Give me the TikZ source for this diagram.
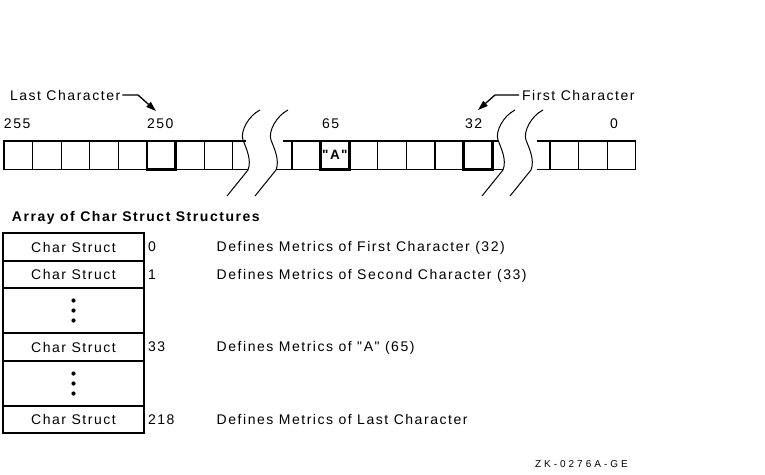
\documentclass[tikz,border=0pt]{standalone}
\usepackage{fontspec}
\setmainfont{Liberation Sans}[LetterSpace=11, Ligatures=TeXOff]
\usetikzlibrary{positioning, calc, arrows.meta}

\begin{document}
\begin{tikzpicture}[x=1pt, y=-1pt,
    every node/.style={inner sep=0pt, outer sep=0pt, font=\fontsize{14}{16}\selectfont},
    cell/.style={draw, line width=1.2pt, minimum width=28.6pt, minimum height=28.5pt},
    hot/.style={draw, line width=2.6pt, minimum width=28.6pt, minimum height=28.5pt},
    slot/.style={draw, line width=1.3pt, minimum width=141pt},
    tag/.style={text height=9.5pt, text depth=0.5pt},
    brk/.pic={\draw[line width=1pt] (17,-30) .. controls (5,-24) and (-3,-8) .. (0,0) .. controls (3,8) and (9,20) .. (5,30) -- (-16,56);},
    ptr/.style={-{Triangle[length=10pt,width=6.5pt]}, line width=1.3pt}]

\useasboundingbox (0,0) rectangle (765,474);

% First run of cells (255 ... 248)
\foreach \i in {0,...,7}
  \node[cell] (a\i) at (18.3+28.6*\i,155.25) {};
\draw[line width=1.2pt] (a7.north east) -- (246,141) (a7.south east) -- (248,169.5);

% Second run of cells
\foreach \i in {0,...,6}
  \node[cell] (b\i) at (306.3+28.6*\i,155.25) {};
\draw[line width=1.2pt] (283,141) -- (b0.north west) (276,169.5) -- (b0.south west)
  (b6.north east) -- (498,141) (b6.south east) -- (503,169.5);

% Third run of cells (2, 1, 0)
\foreach \i in {0,...,2}
  \node[cell] (c\i) at (564.3+28.6*\i,155.25) {};
\draw[line width=1.2pt] (537,141) -- (c0.north west) (537,169.5) -- (c0.south west);

% marked cells
\node[hot] (k250) at (a5) {};
\node[hot, font=\fontsize{13.5}{15}\selectfont\bfseries] (k65) at (b1) {"A"};
\node[hot] (k32) at (b6) {};

% breaks in the row
\pic at (243,140) {brk};
\pic at (271,140) {brk};
\pic at (498,140) {brk};
\pic at (526,140) {brk};

% cell numbers
\node[anchor=base west] (n255) at ($(a0.north west)+(0,-13)$) {255};
\node[anchor=base west] (n250) at ($(a5.north west)+(0,-13)$) {250};
\node[anchor=base west] (n65) at ($(b1.north west)+(1.5,-13)$) {65};
\node[anchor=base west] (n32) at ($(b6.north west)+(1.5,-13)$) {32};
\node[anchor=base west] (n0) at ($(c2.north west)+(3,-13)$) {0};

% pointers
\node[anchor=base west] (lastlbl) at (10,100) {Last Character};
\coordinate (lastbend) at (138,95);
\coordinate (lasttip) at (156,111);
\draw[ptr] ([xshift=2pt]lastlbl.east) -- (lastbend) -- (lasttip);

\node[anchor=base west] (firstlbl) at (522,100) {First Character};
\coordinate (firstbend) at (495,95);
\coordinate (firsttip) at (478,110);
\draw[ptr] ([xshift=-3pt]firstlbl.west) -- (firstbend) -- (firsttip);

% array of structures
\node[anchor=base west, font=\fontsize{14}{16}\selectfont\bfseries] (title) at (12,221) {Array of Char Struct Structures};
\node[slot, minimum height=28pt] (s0) at (73.5,247) {Char Struct};
\node[slot, minimum height=27pt, below=0pt of s0] (s1) {Char Struct};
\node[slot, minimum height=45pt, below=0pt of s1] (gap1) {};
\node[slot, minimum height=28pt, below=0pt of gap1] (s33) {Char Struct};
\node[slot, minimum height=45pt, below=0pt of s33] (gap2) {};
\node[slot, minimum height=27pt, below=0pt of gap2] (s218) {Char Struct};

\foreach \g in {gap1,gap2}
  \foreach \d in {-10,0,10}
    \fill ($(\g.center)+(0,\d)$) circle (2.1);

% indices and meanings
\node[tag, right=4pt of s0] (i0) {0};
\node[tag, right=72.7pt of s0] (d0) {Defines Metrics of First Character (32)};
\node[tag, right=4pt of s1] (i1) {1};
\node[tag, right=72.7pt of s1] (d1) {Defines Metrics of Second Character (33)};
\node[tag, right=4pt of s33] (i33) {33};
\node[tag, right=72.7pt of s33] (d33) {Defines Metrics of "A" (65)};
\node[tag, right=4pt of s218] (i218) {218};
\node[tag, right=72.7pt of s218] (d218) {Defines Metrics of Last Character};

\node[anchor=base west, font=\fontsize{10}{12}\selectfont\addfontfeature{LetterSpace=30}] (zk) at (535,467) {ZK-0276A-GE};
\end{tikzpicture}
\end{document}
